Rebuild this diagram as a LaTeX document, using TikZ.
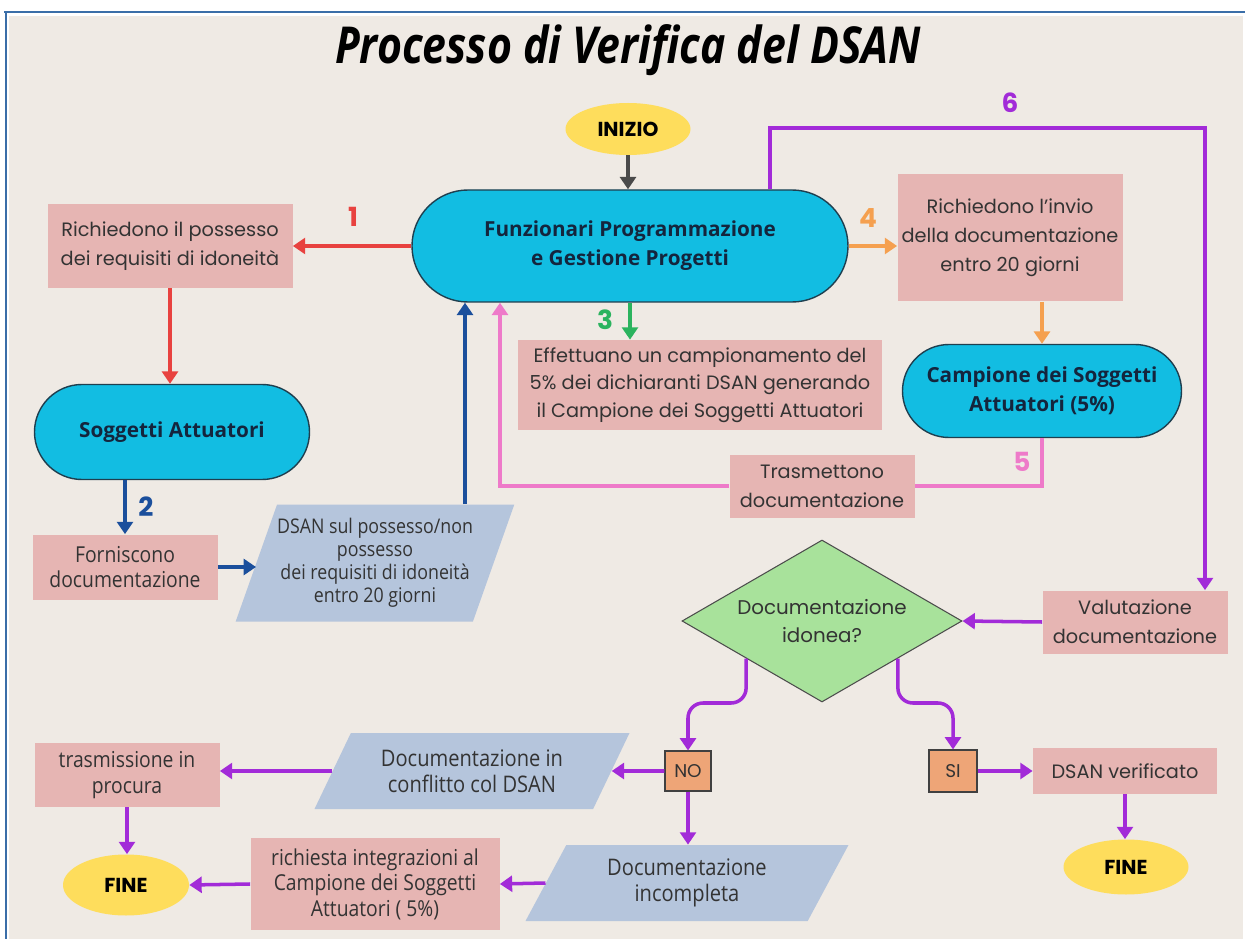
\documentclass[tikz,border=0pt]{standalone}
\usepackage{fontspec}
\setmainfont{Poppins}
\newfontfamily\capsfont{Open Sans}
\newfontfamily\narrowfont[FakeStretch=0.88]{Open Sans}
\newfontfamily\headfont[FakeStretch=0.84]{Open Sans}
\usetikzlibrary{arrows.meta,shapes.geometric,shapes.misc,calc}
\newlength\pxu
\setlength\pxu{0.02cm}
\definecolor{dsbg}{HTML}{EFEAE4}
\definecolor{dsframe}{HTML}{3A6EA8}
\definecolor{dspink}{HTML}{E6B5B3}
\definecolor{dscyan}{HTML}{12BDE2}
\definecolor{dsedge}{HTML}{1F3F4F}
\definecolor{dsyellow}{HTML}{FEDD5C}
\definecolor{dsgray}{HTML}{B5C5DC}
\definecolor{dsgreen}{HTML}{A8E29B}
\definecolor{dsorange}{HTML}{EEA577}
\definecolor{dstext}{HTML}{333333}
\definecolor{dsnavy}{HTML}{14253D}
\definecolor{arred}{HTML}{E8423F}
\definecolor{arblue}{HTML}{1B4F9C}
\definecolor{argreen}{HTML}{2BB35E}
\definecolor{arorange}{HTML}{F5A04F}
\definecolor{arpink}{HTML}{EE7AC9}
\definecolor{arpurple}{HTML}{A22BD8}
\definecolor{argray}{HTML}{4A4A4A}
\tikzset{
  dsbox/.style={fill=dspink,inner sep=0pt,align=center,text=dstext,
    font=\fontsize{11}{16.5}\selectfont},
  dsnarrow/.style={dsbox,font=\narrowfont\fontsize{12.5}{14.5}\selectfont},
  dscaps/.style={rounded rectangle,draw=dsedge,line width=0.8pt,fill=dscyan,
    inner sep=0pt,align=center,text=dsnavy,
    font=\capsfont\bfseries\fontsize{11.8}{16.5}\selectfont},
  dsterm/.style={ellipse,fill=dsyellow,inner sep=0pt,
    font=\bfseries\fontsize{11.5}{14}\selectfont},
  dsdata/.style={trapezium,trapezium left angle=#1,trapezium right angle={180-#1},
    trapezium stretches body,fill=dsgray,inner sep=0pt,align=center,text=dstext,
    font=\narrowfont\fontsize{13}{15}\selectfont},
  dsdecision/.style={diamond,draw=black!70,line width=0.6pt,fill=dsgreen,aspect=1.73,
    inner sep=0pt,minimum width=280\pxu,minimum height=162\pxu,align=center,
    text=dstext,font=\fontsize{11.3}{16}\selectfont},
  dsanswer/.style={rectangle,draw=black!75,line width=0.6pt,fill=dsorange,
    inner sep=0pt,text=dstext,font=\fontsize{10.5}{12}\selectfont},
  dsnum/.style={font=\bfseries\fontsize{15}{15}\selectfont},
  dsflow/.style={line width=2pt,-{Triangle[width=9pt,length=7pt]}},
}
\begin{document}
\begin{tikzpicture}[x=0.02cm,y=-0.02cm]
\useasboundingbox (0,0) rectangle (1245,939);
% page and frame
\fill[white] (0,0) rectangle (1245,939);
\fill[dsbg] (9,16) rectangle (1243,939);
\draw[dsframe,line width=2.5\pxu] (4,12) -- (1245,12);
\draw[dsframe,line width=2.5\pxu] (6,12) -- (6,939);
\node[font=\headfont\bfseries\itshape\fontsize{29}{32}\selectfont] (title) at (628,50) {Processo di Verifica del DSAN};
% upper part
\node[dsterm,minimum width=125\pxu,minimum height=52\pxu] (start) at (628,129) {INIZIO};
\node[dscaps,minimum width=436\pxu,minimum height=112\pxu] (funz) at (630,246) {Funzionari Programmazione\\e Gestione Progetti};
\node[dsbox,minimum width=245\pxu,minimum height=84\pxu] (req) at (170,246) {Richiedono il possesso\\dei requisiti di idoneità};
\node[dscaps,minimum width=275\pxu,minimum height=95\pxu] (sogg) at (172,432) {Soggetti Attuatori};
\node[dsnarrow,minimum width=185\pxu,minimum height=65\pxu] (forn) at (125,567) {Forniscono\\documentazione};
\node[dsdata=65,minimum width=260\pxu,minimum height=117\pxu,font=\narrowfont\fontsize{11.5}{13}\selectfont] (dsan) at (375,563) {DSAN sul possesso/non\\possesso\\dei requisiti di idoneità\\entro 20 giorni};
\node[dsbox,minimum width=364\pxu,minimum height=90\pxu,font=\fontsize{11}{15.5}\selectfont] (camp) at (700,385) {Effettuano un campionamento del\\5\% dei dichiaranti DSAN generando\\il Campione dei Soggetti Attuatori};
\node[dsbox,minimum width=225\pxu,minimum height=127\pxu] (invio) at (1010,238) {Richiedono l'invio\\della documentazione\\entro 20 giorni};
\node[dscaps,minimum width=279\pxu,minimum height=93\pxu] (samp) at (1042,391) {Campione dei Soggetti\\Attuatori (5\%)};
\node[dsbox,minimum width=185\pxu,minimum height=63\pxu] (tras) at (822,486) {Trasmettono\\documentazione};
% evaluation
\node[dsbox,minimum width=185\pxu,minimum height=63\pxu] (valu) at (1135,622) {Valutazione\\documentazione};
\node[dsdecision] (check) at (822,621) {Documentazione\\idonea?};
\node[dsanswer,minimum width=46\pxu,minimum height=40\pxu] (no) at (688,771) {NO};
\node[dsanswer,minimum width=48\pxu,minimum height=42\pxu] (si) at (953,771) {SI};
\node[dsbox,minimum width=184\pxu,minimum height=46\pxu] (verif) at (1125,771) {DSAN verificato};
\node[dsterm,minimum width=125\pxu,minimum height=55\pxu] (endr) at (1126,867) {FINE};
\node[dsdata=50,minimum width=315\pxu,minimum height=76\pxu] (confl) at (472,771) {Documentazione in\\conflitto col DSAN};
\node[dsnarrow,minimum width=185\pxu,minimum height=64\pxu] (proc) at (127,775) {trasmissione in\\procura};
\node[dsterm,minimum width=126\pxu,minimum height=61\pxu] (endl) at (126,885) {FINE};
\node[dsdata=50,minimum width=323\pxu,minimum height=76\pxu] (incom) at (687,883) {Documentazione\\incompleta};
\node[dsnarrow,minimum width=249\pxu,minimum height=92\pxu] (integ) at (375,884) {richiesta integrazioni al\\Campione dei Soggetti\\Attuatori ( 5\%)};
% step numbers
\node[dsnum,text=arred] (n1) at (353,217) {1};
\node[dsnum,text=arblue] (n2) at (146,507) {2};
\node[dsnum,text=argreen] (n3) at (605,320) {3};
\node[dsnum,text=arorange] (n4) at (868,218) {4};
\node[dsnum,text=arpink] (n5) at (1022,462) {5};
\node[dsnum,text=arpurple] (n6) at (1010,103) {6};
% connectors
\coordinate (dsanup) at ([xshift=-165\pxu]funz.south);
\coordinate (trasup) at ([xshift=-130\pxu]funz.south);
\coordinate (six) at ([xshift=140\pxu]funz.north);
\coordinate (sixend) at ([xshift=70\pxu]valu.north);
\coordinate (noout) at ($(check.west)!0.46!(check.south)$);
\coordinate (siout) at ($(check.south)!0.54!(check.east)$);
\draw[dsflow,argray] (start.south) -- (start.south |- funz.north);
\draw[dsflow,arred] (funz.west) -- (req.east);
\draw[dsflow,arred] (req.south) -- (req.south |- sogg.north);
\draw[dsflow,arblue] (forn.north |- sogg.south) -- (forn.north);
\draw[dsflow,arblue] (forn.east) -- (forn.east -| dsan.west);
\draw[dsflow,arblue] (dsanup |- dsan.north) -- (dsanup);
\draw[dsflow,argreen] (funz.south) -- (funz.south |- camp.north);
\draw[dsflow,arorange] (funz.east) -- (funz.east -| invio.west);
\draw[dsflow,arorange] (samp.north |- invio.south) -- (samp.north);
\draw[arpink,line width=2pt] (samp.south) |- (tras.east);
\draw[dsflow,arpink] (tras.west) -| (trasup);
\draw[dsflow,arpurple] (six) -- (six |- 0,128) -| (sixend);
\draw[dsflow,arpurple] (valu.west) -- (check.east);
\draw[dsflow,arpurple,rounded corners=15\pxu] (noout) -- (noout |- 0,703) -| (no.north);
\draw[dsflow,arpurple,rounded corners=15\pxu] (siout) -- (siout |- 0,703) -| (si.north);
\draw[dsflow,arpurple] (no.west) -- (confl.east);
\draw[dsflow,arpurple] (confl.west) -- (confl.west -| proc.east);
\draw[dsflow,arpurple] (proc.south) -- (proc.south |- endl.north);
\draw[dsflow,arpurple] (no.south) -- (no.south |- incom.north);
\draw[dsflow,arpurple] (incom.west) -- (integ.east);
\draw[dsflow,arpurple] (integ.west) -- (endl.east);
\draw[dsflow,arpurple] (si.east) -- (verif.west);
\draw[dsflow,arpurple] (verif.south) -- (verif.south |- endr.north);
\end{tikzpicture}
\end{document}
